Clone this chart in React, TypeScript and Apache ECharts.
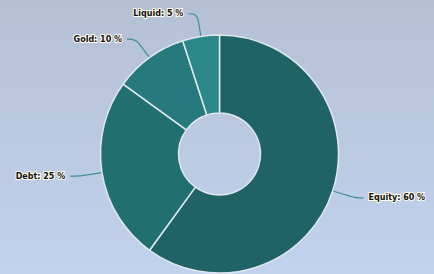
import React, { useEffect, useRef } from "react";
import * as echarts from "echarts";

const categories = ["Equity", "Debt", "Gold", "Liquid"];
const values = [60, 25, 10, 5];
const sliceColors = ["#1f6367", "#226f72", "#26797d", "#2a888b"];

export default function App() {
  const ref = useRef<HTMLDivElement>(null);
  useEffect(() => {
    if (!ref.current) return;
    const chart = echarts.init(ref.current, undefined, { renderer: "svg" });
    chart.setOption({
      animation: false,
      backgroundColor: new echarts.graphic.LinearGradient(0, 0, 0, 1, [
        { offset: 0, color: "#b5c0d4" },
        { offset: 1, color: "#c1d2ef" },
      ]),
      series: [
        {
          type: "pie",
          center: [219.5, 154],
          radius: [41, 119],
          startAngle: 90,
          clockwise: true,
          avoidLabelOverlap: false,
          itemStyle: { borderColor: "#dfe8ee", borderWidth: 1.5 },
          label: {
            show: true,
            formatter: "{b}: {c} %",
            fontFamily: "DejaVu Sans",
            fontWeight: "bold",
            fontSize: 8,
            color: "#111",
            textBorderColor: "#fffbe8",
            textBorderWidth: 2,
            distanceToLabelLine: 5,
          },
          labelLine: {
            show: true,
            length: 23,
            length2: 9,
            smooth: 0.4,
            lineStyle: { width: 1.2, color: "#3c8f96" },
          },
          data: categories.map((c, i) => ({
            name: c,
            value: values[i],
            itemStyle: { color: sliceColors[i] },
          })),
        },
      ],
    });
    return () => chart.dispose();
  }, []);
  return (
    <div
      ref={ref}
      style={{ position: "fixed", left: 0, top: 0, width: 434, height: 274 }}
    />
  );
}
